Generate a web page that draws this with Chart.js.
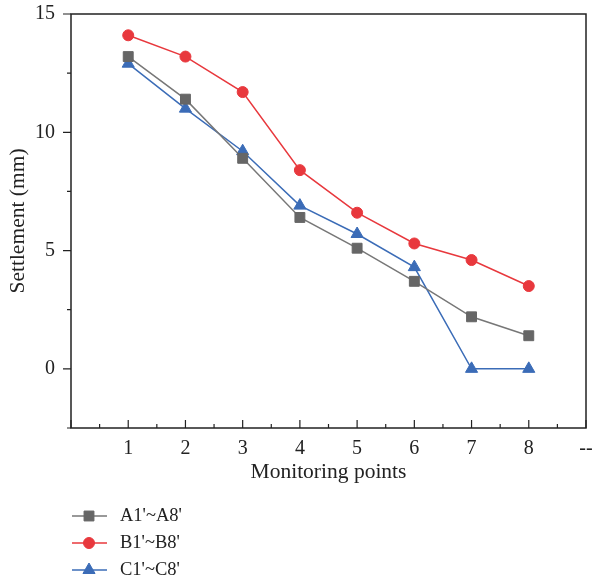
<!DOCTYPE html>
<html>
<head>
<meta charset="utf-8">
<script src="https://cdn.jsdelivr.net/npm/chart.js@4.4.1/dist/chart.umd.min.js"></script>
<style>
  html, body { margin: 0; padding: 0; background: #fff; }
  #wrap { width: 592px; height: 580px; }
</style>
</head>
<body>
<div id="wrap"><canvas id="settlementChart" width="592" height="580"></canvas></div>
<script>
const monitoringPoints = [1, 2, 3, 4, 5, 6, 7, 8];
const seriesNames = ["A1'~A8'", "B1'~B8'", "C1'~C8'"];
const settlementA = [13.2, 11.4, 8.9, 6.4, 5.1, 3.7, 2.2, 1.4];
const settlementB = [14.1, 13.2, 11.7, 8.4, 6.6, 5.3, 4.6, 3.5];
const settlementC = [12.9, 11.0, 9.2, 6.9, 5.7, 4.3, 0, 0];
const yTickLabels = [0, 5, 10, 15];

const FONT = "'Liberation Serif', 'DejaVu Serif', serif";
const INK = "#222";

function toPoints(values) {
  return monitoringPoints.map((x, i) => ({ x, y: values[i] }));
}

// box round the plot + short ticks (x inside, y outside)
const frameAndTicks = {
  id: "frameAndTicks",
  afterDraw(chart) {
    const { ctx, chartArea: area, scales } = chart;
    ctx.save();
    ctx.strokeStyle = INK;
    ctx.lineWidth = 1.5;
    ctx.strokeRect(area.left, area.top, area.right - area.left, area.bottom - area.top);

    ctx.lineWidth = 1.2;
    ctx.beginPath();
    for (let v = 0; v <= 9; v += 0.5) {
      const px = scales.x.getPixelForValue(v);
      const len = Number.isInteger(v) ? 8 : 4;
      ctx.moveTo(px, area.bottom);
      ctx.lineTo(px, area.bottom - len);
    }
    for (let v = -2.5; v <= 15; v += 2.5) {
      const py = scales.y.getPixelForValue(v);
      const len = v % 5 === 0 ? 8 : 4;
      ctx.moveTo(area.left, py);
      ctx.lineTo(area.left - len, py);
    }
    ctx.stroke();
    ctx.restore();
  },
};

// vertical legend under the axis title
const stackedLegend = {
  id: "stackedLegend",
  afterDraw(chart) {
    const { ctx } = chart;
    const rows = [516, 543, 570];
    ctx.save();
    chart.data.datasets.forEach((ds, i) => {
      const y = rows[i];
      ctx.strokeStyle = ds.borderColor;
      ctx.lineWidth = ds.borderWidth;
      ctx.beginPath();
      ctx.moveTo(72, y);
      ctx.lineTo(107, y);
      ctx.stroke();

      ctx.fillStyle = ds.pointBackgroundColor;
      ctx.strokeStyle = ds.pointBackgroundColor;
      ctx.lineWidth = 1;
      Chart.helpers.drawPoint(ctx, {
        pointStyle: ds.pointStyle,
        radius: ds.pointRadius,
        rotation: 0,
        borderWidth: 1,
      }, 89, y);

      ctx.fillStyle = INK;
      ctx.font = "18.5px " + FONT;
      ctx.textBaseline = "middle";
      ctx.textAlign = "left";
      ctx.fillText(ds.label, 120, y);
    });
    ctx.restore();
  },
};

new Chart(document.getElementById("settlementChart"), {
  type: "line",
  data: {
    datasets: [
      {
        label: seriesNames[0],
        data: toPoints(settlementA),
        borderColor: "#777777",
        borderWidth: 1.5,
        pointStyle: "rect",
        pointRadius: 7,
        pointBackgroundColor: "#666666",
        pointBorderColor: "#666666",
        pointBorderWidth: 1,
      },
      {
        label: seriesNames[1],
        data: toPoints(settlementB),
        borderColor: "#e8383d",
        borderWidth: 1.5,
        pointStyle: "circle",
        pointRadius: 5.5,
        pointBackgroundColor: "#e8383d",
        pointBorderColor: "#e8383d",
        pointBorderWidth: 1,
      },
      {
        label: seriesNames[2],
        data: toPoints(settlementC),
        borderColor: "#3b6cb7",
        borderWidth: 1.5,
        pointStyle: "triangle",
        pointRadius: 7,
        pointBackgroundColor: "#3b6cb7",
        pointBorderColor: "#3b6cb7",
        pointBorderWidth: 1,
      },
    ],
  },
  options: {
    responsive: false,
    animation: false,
    layout: { autoPadding: false, padding: { top: 14, right: 6, bottom: 97, left: 5 } },
    plugins: {
      legend: { display: false },
      tooltip: { enabled: false },
    },
    scales: {
      x: {
        type: "linear",
        min: 0,
        max: 9,
        grid: { display: false, drawTicks: false },
        border: { display: false },
        afterFit(scale) {
          scale.paddingLeft = 0;
          scale.paddingRight = 0;
          scale.height = 55;
        },
        ticks: {
          stepSize: 1,
          autoSkip: false,
          maxRotation: 0,
          padding: 11,
          color: INK,
          font: { family: FONT, size: 20, lineHeight: 1 },
          callback(value) {
            if (value === 9) return "--";
            return monitoringPoints.includes(value) ? String(value) : "";
          },
        },
        title: {
          display: true,
          text: "Monitoring points",
          color: INK,
          font: { family: FONT, size: 21.5, lineHeight: 1 },
          padding: { top: 0, bottom: 0 },
        },
      },
      y: {
        min: -2.5,
        max: 15,
        grid: { display: false, drawTicks: false },
        border: { display: false },
        afterFit(scale) {
          scale.paddingTop = 0;
          scale.paddingBottom = 0;
          scale.width = 66;
        },
        ticks: {
          stepSize: 2.5,
          autoSkip: false,
          padding: 16,
          color: INK,
          font: { family: FONT, size: 20 },
          callback(value) {
            return yTickLabels.includes(value) ? String(value) : "";
          },
        },
        title: {
          display: true,
          text: "Settlement (mm)",
          color: INK,
          font: { family: FONT, size: 21.5 },
          padding: { top: 0, bottom: 3 },
        },
      },
    },
  },
  plugins: [frameAndTicks, stackedLegend],
});
</script>
</body>
</html>
